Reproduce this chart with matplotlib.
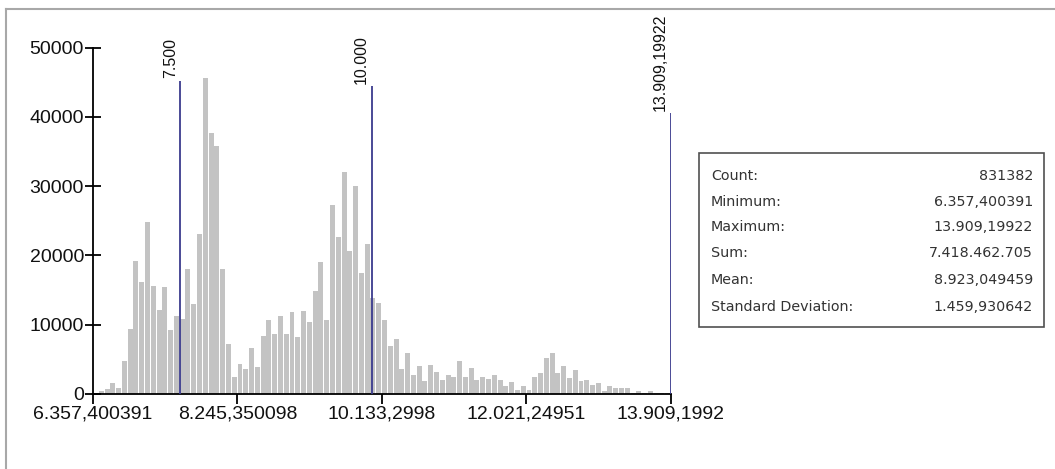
import numpy as np
import matplotlib
import matplotlib.pyplot as plt
from matplotlib.patches import Rectangle

matplotlib.use('Agg')

# histogram counts, 100 equal bins between min and max
counts = [150, 400, 650, 1650, 850, 4800, 9400, 19200, 16200, 24900,
          15600, 12200, 15400, 9200, 11300, 10800, 18000, 13000, 23100, 45600,
          37700, 35800, 18100, 7200, 2500, 4300, 3600, 6600, 3900, 8400,
          10700, 8700, 11300, 8700, 11800, 8300, 12000, 10400, 14800, 19100,
          10700, 27300, 22700, 32000, 20700, 30100, 17500, 21600, 13900, 13200,
          10700, 7000, 7900, 3600, 5900, 2700, 4100, 1900, 4200, 3200,
          2000, 2700, 2400, 4800, 2500, 3800, 2000, 2500, 2100, 2700,
          2000, 1150, 1800, 600, 1150, 600, 2500, 3000, 5200, 5900,
          3000, 4100, 2300, 3500, 1900, 2000, 1300, 1600, 500, 1150,
          900, 800, 900, 200, 450, 200, 450, 150, 100, 100]

x_min = 6.357400391
x_max = 13.90919922

x_tick_values = [6.357400391, 8.245350098, 10.1332998, 12.02124951, 13.9091992]
x_tick_labels = ['6.357,400391', '8.245,350098', '10.133,2998', '12.021,24951', '13.909,1992']
y_tick_values = [0, 10000, 20000, 30000, 40000, 50000]

# class break markers
marker_values = [7.5, 10.0, 13.90919922]
marker_tops = [45200, 44400, 40500]
marker_labels = ['7.500', '10.000', '13.909,19922']

stat_names = ['Count:', 'Minimum:', 'Maximum:', 'Sum:', 'Mean:', 'Standard Deviation:']
stat_values = ['831382', '6.357,400391', '13.909,19922', '7.418.462.705',
               '8.923,049459', '1.459,930642']

W, H = 1055, 469


def fx(px):
    return px / W


def fy(py):
    return 1 - py / H


fig = plt.figure(figsize=(W / 100, H / 100), dpi=100)
fig.patch.set_facecolor('white')

# window frame (top and left edges visible)
fig.add_artist(plt.Line2D([fx(6), fx(6)], [fy(9), 0], color='#a8a8a8', lw=1.5))
fig.add_artist(plt.Line2D([fx(6), 1], [fy(9), fy(9)], color='#a8a8a8', lw=1.5))

ax = fig.add_axes([fx(93), fy(394), fx(671) - fx(93), fy(47.7) - fy(394)])

edges = np.linspace(x_min, x_max, len(counts) + 1)
bin_w = edges[1] - edges[0]
ax.bar(edges[:-1], counts, width=bin_w * 0.86, align='edge', color='#c3c3c3', linewidth=0)

ax.vlines(marker_values, 0, marker_tops, color='#3b3b8e', lw=1.3, zorder=3)
for v, top, lab in zip(marker_values, marker_tops, marker_labels):
    ax.annotate(lab, xy=(v, top), xytext=(-2, 2), textcoords='offset points',
                rotation=90, ha='right', va='bottom', fontsize=11.5,
                family='Liberation Sans', color='#111111')

ax.set_xlim(x_min, x_max)
ax.set_ylim(0, 50000)
ax.set_xticks(x_tick_values)
ax.set_xticklabels(x_tick_labels)
ax.set_yticks(y_tick_values)
ax.set_yticklabels([str(v) for v in y_tick_values])

for s in ['top', 'right']:
    ax.spines[s].set_visible(False)
for s in ['left', 'bottom']:
    ax.spines[s].set_linewidth(1.3)
ax.tick_params(axis='y', direction='inout', length=11, width=1.3, pad=1, labelsize=14)
ax.tick_params(axis='x', direction='out', length=7, width=1.3, pad=1, labelsize=14)
for lab in ax.get_xticklabels() + ax.get_yticklabels():
    lab.set_family('Liberation Sans')
    lab.set_color('#111111')

# statistics box
fig.add_artist(Rectangle((fx(699), fy(327)), fx(1044) - fx(699), fy(153) - fy(327),
                         transform=fig.transFigure, facecolor='white',
                         edgecolor='#505050', lw=1.2))
row_y = [176, 202, 227, 253, 280, 307]
for name, val, y in zip(stat_names, stat_values, row_y):
    fig.text(fx(711), fy(y), name, ha='left', va='center', fontsize=10.3,
             family='DejaVu Sans', color='#333333')
    fig.text(fx(1033), fy(y), val, ha='right', va='center', fontsize=10.3,
             family='DejaVu Sans', color='#333333')

fig.savefig('out.png', dpi=100)
